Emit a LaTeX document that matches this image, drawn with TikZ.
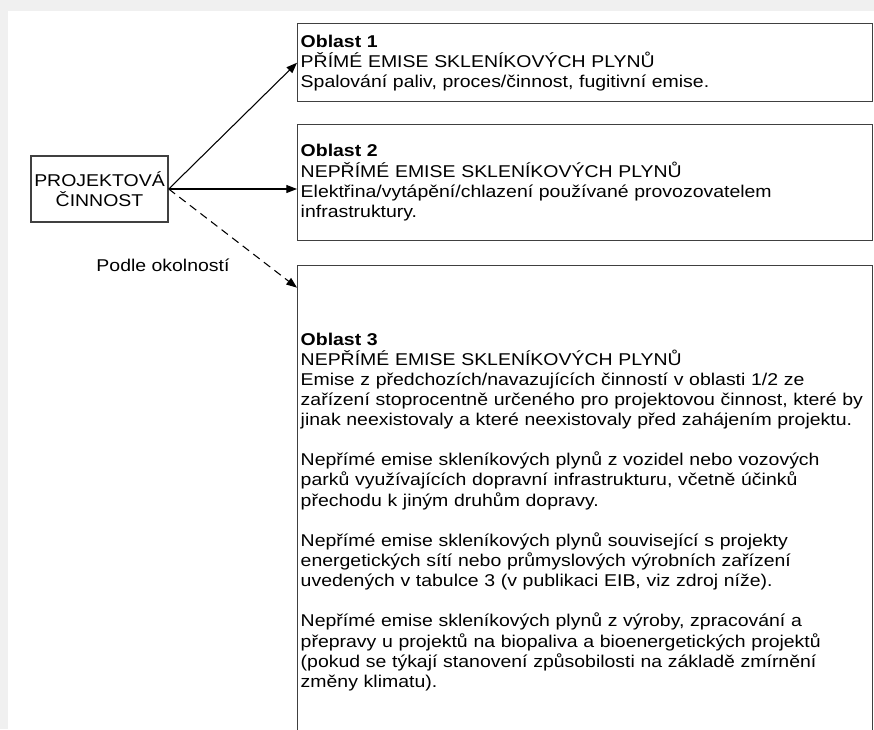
\documentclass[tikz,border=0pt]{standalone}
\usepackage{fontspec}
\setmainfont[FakeStretch=1.14]{Liberation Sans}
\usetikzlibrary{arrows.meta}
\newdimen\pxu \pxu=0.75pt
\definecolor{pagegray}{HTML}{F0F0F0}
\definecolor{boxgray}{HTML}{404040}
\tikzset{
  areabox/.style={draw=boxgray, line width=1.1pt, anchor=north west, align=left,
    text width=569\pxu, minimum width=575\pxu, inner xsep=3\pxu, inner ysep=0pt,
    font=\fontsize{12.8}{15.1}\selectfont},
  actbox/.style={draw=boxgray, line width=1.1pt, align=center, minimum width=137\pxu,
    minimum height=66\pxu, inner sep=0pt, font=\fontsize{12.8}{15.1}\selectfont},
  link/.style={line width=0.8pt, -{Triangle[length=8pt,width=6pt]}}
}
\begin{document}
\begin{tikzpicture}[x=0.75pt, y=-0.75pt]
  %%%%% START %%%%%
  \fill[pagegray] (0,0) rectangle (874,729);
  \fill[white] (8,11) rectangle (874,729);
  \clip (0,0) rectangle (874,729);

  \node[actbox] (activity) at (99.5,189) {PROJEKTOVÁ\hspace{4\pxu}\\ČINNOST\hspace{4\pxu}};

  \node[areabox, minimum height=78\pxu] (area1) at (297,23)
    {\textbf{Oblast 1}\\
     PŘÍMÉ EMISE SKLENÍKOVÝCH PLYNŮ\\
     Spalování paliv, proces/činnost, fugitivní emise.};

  \node[areabox, minimum height=116\pxu] (area2) at (297,124)
    {\textbf{Oblast 2}\\
     NEPŘÍMÉ EMISE SKLENÍKOVÝCH PLYNŮ\\
     Elektřina/vytápění/chlazení používané provozovatelem\\
     infrastruktury.};

  \node[areabox, minimum height=492\pxu] (area3) at (297,265)
    {\textbf{Oblast 3}\\
     NEPŘÍMÉ EMISE SKLENÍKOVÝCH PLYNŮ\\
     Emise z předchozích/navazujících činností v oblasti 1/2 ze\\
     zařízení stoprocentně určeného pro projektovou činnost, které by\\
     jinak neexistovaly a které neexistovaly před zahájením projektu.\\[15.1pt]
     Nepřímé emise skleníkových plynů z vozidel nebo vozových\\
     parků využívajících dopravní infrastrukturu, včetně účinků\\
     přechodu k jiným druhům dopravy.\\[15.1pt]
     Nepřímé emise skleníkových plynů související s projekty\\
     energetických sítí nebo průmyslových výrobních zařízení\\
     uvedených v tabulce 3 (v publikaci EIB, viz zdroj níže).\\[15.1pt]
     Nepřímé emise skleníkových plynů z výroby, zpracování a\\
     přepravy u projektů na biopaliva a bioenergetických projektů\\
     (pokud se týkají stanovení způsobilosti na základě zmírnění\\
     změny klimatu).};

  \node[font=\fontsize{12.8}{15.1}\selectfont] (lbl) at (163,265) {Podle okolností};

  \draw[link] (activity.east) -- (area1.west);
  \draw[link] (activity.east) -- (activity.east -| area2.west);
  \draw[link, dash pattern=on 6pt off 4pt] (activity.east) -- ([yshift=-17pt]area3.north west);
  %%%%% END %%%%%
\end{tikzpicture}
\end{document}
